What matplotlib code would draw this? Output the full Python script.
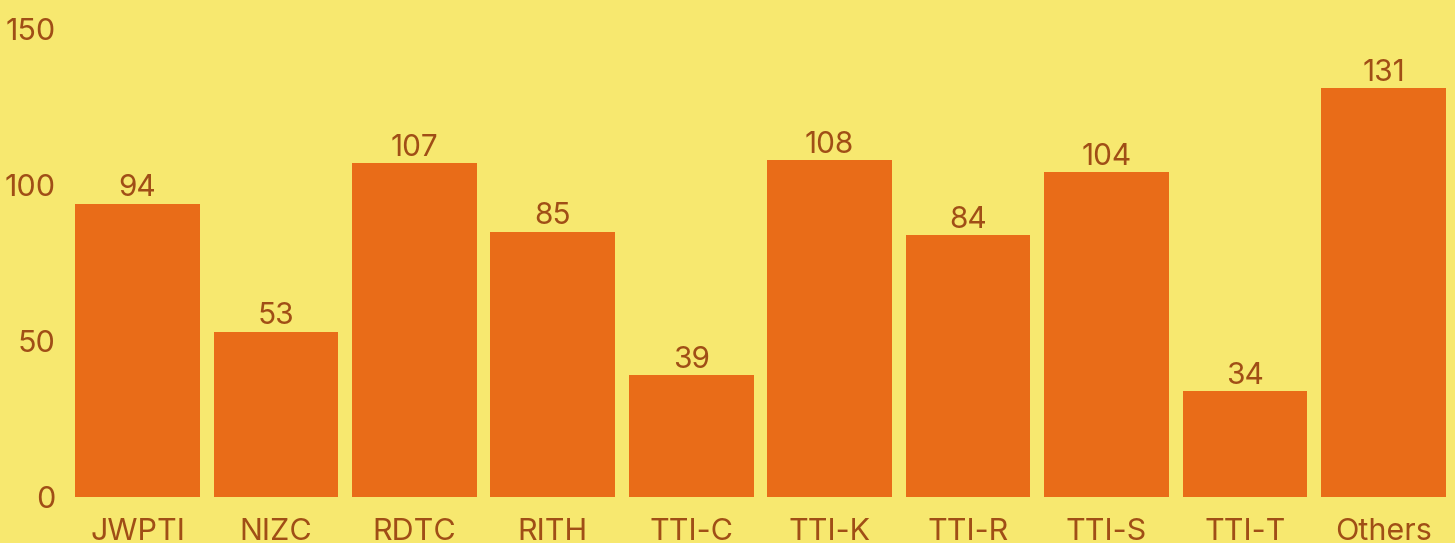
import matplotlib
matplotlib.use("Agg")
from matplotlib import pyplot as plt

categories = ["JWPTI", "NIZC", "RDTC", "RITH", "TTI-C", "TTI-K", "TTI-R", "TTI-S", "TTI-T", "Others"]
counts = [94, 53, 107, 85, 39, 108, 84, 104, 34, 131]
y_ticks = [0, 50, 100, 150]

BG = "#F7E86F"
BAR = "#E96C18"
TXT = "#A04E16"

plt.rcParams["font.family"] = ["Inter", "DejaVu Sans"]

fig = plt.figure(figsize=(14.55, 5.43), dpi=100, facecolor=BG)
ax = fig.add_axes([0.0469, 0.0847, 0.9515, 0.862])
ax.set_facecolor(BG)

x = range(len(categories))
bars = ax.bar(x, counts, width=0.9, color=BAR)
ax.bar_label(bars, labels=[str(c) for c in counts], padding=1, color=TXT, fontsize=21.5)

ax.set_xlim(-0.5, len(categories) - 0.5)
ax.set_ylim(0, 150)
ax.set_xticks(list(x))
ax.set_xticklabels(categories)
ax.set_yticks(y_ticks)
ax.tick_params(axis="both", length=0, colors=TXT, labelsize=22)
ax.tick_params(axis="x", pad=15)
ax.tick_params(axis="y", pad=9)
for s in ax.spines.values():
	s.set_visible(False)

fig.savefig("out.png", dpi=100, facecolor=BG)
